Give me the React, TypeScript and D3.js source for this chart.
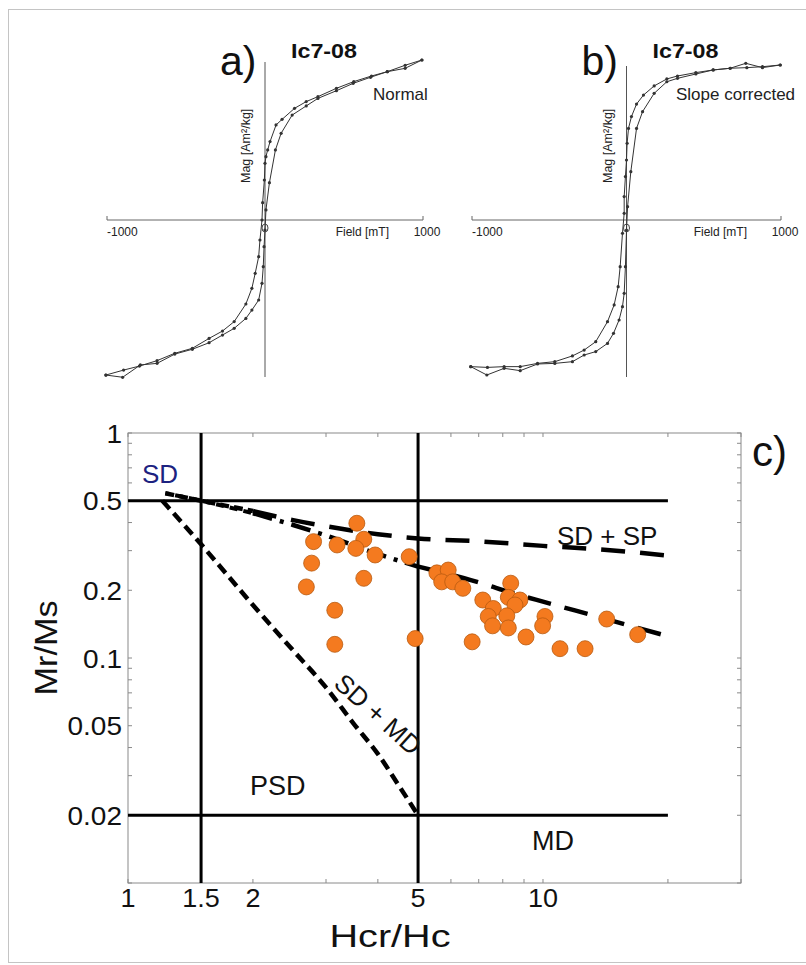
import React from 'react';
import * as d3 from 'd3';

// ---------- Panel a (Normal) hysteresis loop ----------
const aDescField = [993,887,774,674,562,452,335,261,187,108,70,32,17,6,0,-4,-15,-19,-32,-40,-62,-83,-121,-195,-269,-354,-460,-571,-683,-795,-895,-1007];
const aDescMag = [1.0,0.948,0.927,0.9,0.865,0.823,0.771,0.74,0.698,0.629,0.594,0.49,0.438,0.396,0.354,0.25,0.108,0,-0.125,-0.229,-0.333,-0.427,-0.525,-0.635,-0.694,-0.74,-0.802,-0.833,-0.879,-0.913,-0.938,-0.969];
const aAscField = [-1007,-901,-789,-683,-571,-460,-354,-269,-195,-121,-83,-40,-19,-11,-6,0,6,28,66,102,172,261,335,452,558,668,774,887,993];
const aAscMag = [-0.969,-0.983,-0.906,-0.896,-0.838,-0.808,-0.767,-0.719,-0.677,-0.615,-0.563,-0.5,-0.396,-0.292,-0.167,-0.063,0.063,0.233,0.438,0.542,0.656,0.713,0.76,0.808,0.854,0.892,0.927,0.967,1.0];

// ---------- Panel b (Slope corrected) hysteresis loop ----------
const bDescField = [995,880,779,671,561,449,330,261,179,110,65,32,13,4,0,-7,-15,-15,-26,-41,-54,-80,-123,-199,-274,-350,-464,-576,-688,-792,-900,-1008];
const bDescMag = [1.0,0.989,0.983,0.979,0.968,0.951,0.929,0.91,0.865,0.806,0.748,0.667,0.591,0.495,0.387,0.28,0.151,0.043,-0.086,-0.301,-0.43,-0.548,-0.656,-0.785,-0.839,-0.877,-0.914,-0.925,-0.946,-0.946,-0.951,-0.946];
const bAscField = [-1008,-904,-792,-688,-576,-464,-350,-274,-199,-123,-84,-48,-26,-15,-7,0,7,28,65,104,179,261,330,449,561,671,772,880,995];
const bAscMag = [-0.946,-1.0,-0.957,-0.972,-0.929,-0.925,-0.914,-0.871,-0.849,-0.796,-0.731,-0.645,-0.559,-0.473,-0.301,-0.065,0.086,0.312,0.591,0.699,0.817,0.892,0.914,0.942,0.968,0.979,1.011,0.983,1.0];

// ---------- Panel c (Day plot) ----------
const hcrHc = [3.56,2.80,3.19,3.70,3.54,3.94,4.76,2.77,3.70,2.69,3.15,3.15,4.92,5.55,5.91,5.70,6.06,6.41,7.16,8.36,8.25,8.80,8.56,7.59,7.38,8.18,7.56,8.25,10.11,9.98,9.10,6.75,10.99,12.63,14.24,16.91];
const mrMs = [0.397,0.329,0.318,0.337,0.307,0.287,0.282,0.264,0.226,0.207,0.163,0.115,0.122,0.239,0.246,0.218,0.218,0.204,0.181,0.215,0.186,0.181,0.172,0.166,0.153,0.154,0.139,0.136,0.153,0.139,0.124,0.118,0.110,0.110,0.149,0.127];

const sdmdHcr = [1.21,1.5,2,2.5,3,3.5,4,4.5,5];
const sdmdMr = [0.5,0.32,0.172,0.108,0.074,0.051,0.0375,0.027,0.02];
const sdspUpperHcr = [1.23,1.5,2,2.5,3,4,5,7,10,15,20];
const sdspUpperMr = [0.54,0.5,0.45,0.41,0.385,0.355,0.34,0.33,0.315,0.3,0.285];
const sdspLowerHcr = [1.23,1.5,2,2.5,3,4,5,6.7,8.8,10,14,20];
const sdspLowerMr = [0.54,0.5,0.44,0.39,0.35,0.29,0.255,0.222,0.19,0.178,0.15,0.125];

const xTickLabels = [1,1.5,2,5,10];
const yTickLabels = [1,0.5,0.2,0.1,0.05,0.02];
const xMinorTicks = [1,2,3,4,5,6,7,8,9,10,20,30];
const yMinorTicks = [0.01,0.02,0.03,0.04,0.05,0.06,0.07,0.08,0.09,0.1,0.2,0.3,0.4,0.5,0.6,0.7,0.8,0.9,1];
const boundaryHcr = [1.5,5];
const boundaryMr = [0.5,0.02];

const FONT = "'Liberation Sans', Arial, sans-serif";

function zip(a: number[], b: number[]): [number, number][] {
  return a.map((v, i) => [v, b[i]] as [number, number]);
}

function LoopPanel(props: {
  x0: number; x1: number; yTop: number; yBot: number; axisTop: number; axisBot: number;
  desc: [number, number][]; asc: [number, number][];
  letter: string; note: string; noteX: number;
}) {
  const { x0, x1, yTop, yBot, axisTop, axisBot, desc, asc, letter, note, noteX } = props;
  const xs = d3.scaleLinear().domain([-1000, 1000]).range([x0, x1]);
  const ys = d3.scaleLinear().domain([-1, 1]).range([yBot, yTop]);
  const line = d3.line<[number, number]>().x(d => xs(d[0])).y(d => ys(d[1]));
  const cx = xs(0);
  const cy = ys(0);
  return (
    <g>
      <line x1={xs(-1000)} x2={xs(1000)} y1={cy} y2={cy} stroke="#666" strokeWidth={1} />
      <line x1={xs(-1000)} x2={xs(-1000)} y1={cy} y2={cy - 4} stroke="#666" strokeWidth={1} />
      <line x1={xs(1000)} x2={xs(1000)} y1={cy} y2={cy - 4} stroke="#666" strokeWidth={1} />
      <line x1={cx} x2={cx} y1={axisTop} y2={axisBot} stroke="#555" strokeWidth={1} />
      {[desc, asc].map((s, k) => (
        <path key={k} d={line(s) || ''} fill="none" stroke="#333" strokeWidth={1} />
      ))}
      {[...desc, ...asc].map((d, i) => (
        <circle key={i} cx={xs(d[0])} cy={ys(d[1])} r={1.6} fill="#333" />
      ))}
      <ellipse cx={cx} cy={cy + 8} rx={3} ry={4} fill="none" stroke="#444" strokeWidth={1} />
      <text x={xs(-1000)} y={cy + 16} fontSize={12} fontFamily={FONT} fill="#222">-1000</text>
      <text x={xs(1000) - 34} y={cy + 16} fontSize={12} fontFamily={FONT} fill="#222" textAnchor="end">Field [mT]</text>
      <text x={xs(1000) + 4} y={cy + 16} fontSize={12} fontFamily={FONT} fill="#222" textAnchor="middle">1000</text>
      <text transform={`translate(${cx - 15},${cy - 37}) rotate(-90)`} fontSize={12.5} fontFamily={FONT} fill="#222">Mag [Am²/kg]</text>
      <text x={cx - 45} y={75} fontSize={41} fontFamily={FONT} fill="#111">{letter}</text>
      <text x={cx + 26} y={58} fontSize={20} fontWeight="bold" fontFamily={FONT} fill="#111"
        textLength={66} lengthAdjust="spacingAndGlyphs">Ic7-08</text>
      <text x={noteX} y={100} fontSize={17} fontFamily={FONT} fill="#222">{note}</text>
    </g>
  );
}

function DayPlot() {
  const L = 128, R = 741, T = 433, B = 883;
  const xs = d3.scaleLog().domain([1, 30]).range([L, R]);
  const ys = d3.scaleLog().domain([0.01, 1]).range([B, T]);
  const line = d3.line<[number, number]>().x(d => xs(d[0])).y(d => ys(d[1])).curve(d3.curveMonotoneX);
  const sdmd = zip(sdmdHcr, sdmdMr);
  const up = zip(sdspUpperHcr, sdspUpperMr);
  const low = zip(sdspLowerHcr, sdspLowerMr);
  const lowA = low.slice(0, 3);
  const lowB = low.slice(2, 7);
  const lowC = low.slice(6);
  const upA = up.slice(0, 3);
  const upB = up.slice(2);
  const pts = zip(hcrHc, mrMs);
  const frame = '#8a8a8a';
  return (
    <g>
      <rect x={L} y={T} width={R - L} height={B - T} fill="none" stroke={frame} strokeWidth={1} />
      {xMinorTicks.map((t, i) => (
        <g key={'xt' + i}>
          <line x1={xs(t)} x2={xs(t)} y1={B} y2={B - 4} stroke={frame} />
          <line x1={xs(t)} x2={xs(t)} y1={T} y2={T + 4} stroke={frame} />
        </g>
      ))}
      {yMinorTicks.map((t, i) => (
        <g key={'yt' + i}>
          <line x1={L} x2={L + 4} y1={ys(t)} y2={ys(t)} stroke={frame} />
          <line x1={R} x2={R - 4} y1={ys(t)} y2={ys(t)} stroke={frame} />
        </g>
      ))}
      {xTickLabels.map((t, i) => (
        <text key={'xl' + i} transform={`translate(${xs(t)},${B + 24}) scale(1.08,1)`} fontSize={25} fontFamily={FONT} textAnchor="middle" fill="#111">{t}</text>
      ))}
      {yTickLabels.map((t, i) => (
        <text key={'yl' + i} transform={`translate(${L - 6},${ys(t) + 9.5}) scale(1.12,1)`} fontSize={25} fontFamily={FONT} textAnchor="end" fill="#111">{t}</text>
      ))}
      <text x={390} y={947} fontSize={31} fontFamily={FONT} textAnchor="middle" fill="#111"
        textLength={121} lengthAdjust="spacingAndGlyphs">Hcr/Hc</text>
      <text transform={`translate(57,${648}) rotate(-90)`} fontSize={32} fontFamily={FONT} textAnchor="middle" fill="#111"
        textLength={95} lengthAdjust="spacingAndGlyphs">Mr/Ms</text>

      {/* domain boundaries */}
      {boundaryMr.map((m, i) => (
        <line key={'hb' + i} x1={xs(1)} x2={xs(20)} y1={ys(m)} y2={ys(m)} stroke="#000" strokeWidth={3} />
      ))}
      {boundaryHcr.map((h, i) => (
        <line key={'vb' + i} x1={xs(h)} x2={xs(h)} y1={T} y2={B} stroke="#000" strokeWidth={3} />
      ))}

      {/* mixing curves */}
      <path d={line(sdmd) || ''} fill="none" stroke="#000" strokeWidth={4.5} strokeDasharray="11,6" />
      <path d={line(upA) || ''} fill="none" stroke="#000" strokeWidth={4.5} strokeDasharray="9,5" />
      <path d={line(upB) || ''} fill="none" stroke="#000" strokeWidth={4.5} strokeDasharray="24,15" />
      <path d={line(lowA) || ''} fill="none" stroke="#000" strokeWidth={4} strokeDasharray="8,6" strokeDashoffset={4} />
      <path d={line(lowB) || ''} fill="none" stroke="#000" strokeWidth={4.5} strokeDasharray="20,8,4,8" />
      <path d={line(lowC) || ''} fill="none" stroke="#000" strokeWidth={4.5} strokeDasharray="24,14" />

      {/* samples */}
      {pts.map((d, i) => (
        <circle key={'p' + i} cx={xs(d[0])} cy={ys(d[1])} r={8} fill="#F47A1F" stroke="#B85A10" strokeWidth={0.8} />
      ))}

      {/* region labels */}
      <text x={142} y={483} fontSize={26} fontFamily={FONT} fill="#1c2280">SD</text>
      <text x={557} y={545} fontSize={26} fontFamily={FONT} fill="#111">SD + SP</text>
      <text x={250} y={795} fontSize={27} fontFamily={FONT} fill="#111">PSD</text>
      <text x={532} y={850} fontSize={27} fontFamily={FONT} fill="#111">MD</text>
      <text transform="translate(372,721) rotate(42)" fontSize={26} fontFamily={FONT} textAnchor="middle" fill="#111">SD + MD</text>
      <text x={752} y={466} fontSize={42} fontFamily={FONT} fill="#111">c)</text>
    </g>
  );
}

export default function App() {
  return (
    <svg width={806} height={965} style={{ position: 'absolute', left: 0, top: 0, background: '#fff' }}>
      <rect x={0} y={0} width={806} height={965} fill="#fff" />
      <rect x={8.5} y={9.5} width={820} height={953} fill="none" stroke="#c4c4c4" strokeWidth={1} />
      <LoopPanel x0={107} x1={423} yTop={60} yBot={380} axisTop={62} axisBot={377}
        desc={zip(aDescField, aDescMag)} asc={zip(aAscField, aAscMag)}
        letter="a)" note="Normal" noteX={373} />
      <LoopPanel x0={472} x1={781} yTop={65} yBot={375} axisTop={66} axisBot={377}
        desc={zip(bDescField, bDescMag)} asc={zip(bAscField, bAscMag)}
        letter="b)" note="Slope corrected" noteX={676} />
      <DayPlot />
    </svg>
  );
}
